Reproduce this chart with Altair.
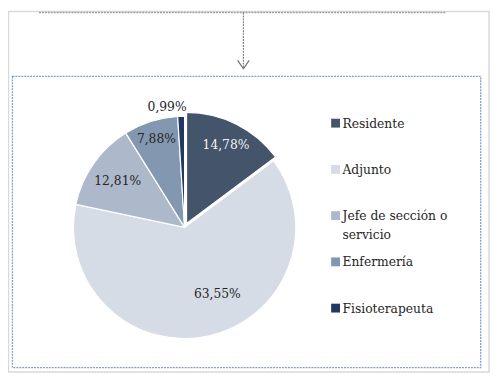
import json
import altair as alt
import pandas as pd

# ---- data ----
categories = ["Residente", "Adjunto", "Jefe de sección o servicio", "Enfermería", "Fisioterapeuta"]
values = [14.78, 63.55, 12.81, 7.88, 0.99]
legend_labels = ["Residente", "Adjunto", "Jefe de sección o\nservicio", "Enfermería", "Fisioterapeuta"]
colors = ["#44546A", "#D6DCE5", "#ADB9CA", "#8497B0", "#203864"]

df = pd.DataFrame({
    "cat": categories,
    "value": values,
    "idx": list(range(len(categories))),
    "label": [f"{v:.2f}".replace(".", ",") + "%" for v in values],
    "legend": legend_labels,
})

FONT = "DejaVu Serif"
CX, CY, R = 179.5, 220, 113
color_scale = alt.Scale(domain=categories, range=colors)

base = alt.Chart(df)

theta = alt.Theta("value:Q", stack=True)
order = alt.Order("idx:Q", sort="ascending")

# pie, Residente hidden (drawn exploded in next layer)
pie = base.mark_arc(radius=R, stroke="white", strokeWidth=1.2).encode(
    theta=theta, order=order,
    color=alt.Color("cat:N", scale=color_scale, legend=None),
    opacity=alt.condition(alt.datum.cat == "Residente", alt.value(0), alt.value(1)),
    x=alt.value(CX), y=alt.value(CY),
)
pie_explode = base.mark_arc(radius=R, stroke="white", strokeWidth=1.2).encode(
    theta=theta, order=order,
    color=alt.Color("cat:N", scale=color_scale, legend=None),
    opacity=alt.condition(alt.datum.cat == "Residente", alt.value(1), alt.value(0)),
    x=alt.value(CX + 2), y=alt.value(CY - 4),
)


def label_layer(only, radius, dx=0, dy=0, color="#262626"):
    expr = f"indexof({json.dumps(only)}, datum.cat) >= 0 ? datum.label : ''"
    return base.transform_calculate(lbl=expr).mark_text(
        radius=radius, dx=dx, dy=dy, font=FONT, fontSize=12.5, color=color,
        align="center", baseline="middle",
    ).encode(theta=theta, order=order, text="lbl:N", x=alt.value(CX), y=alt.value(CY))


labels = [
    label_layer(["Residente"], 94, color="#F2F2F2"),
    label_layer(["Enfermería"], 94),
    label_layer(["Jefe de sección o servicio"], 83),
    label_layer(["Adjunto"], 76, dx=17, dy=-6),
    label_layer(["Fisioterapeuta"], 122, dx=-14),
]

# ---- legend ----
ypos = alt.Y("cat:N", sort=categories, axis=None,
             scale=alt.Scale(type="point", range=[114, 302], padding=0))
leg_sq = base.mark_square(size=81, opacity=1).encode(
    x=alt.value(333), y=ypos,
    color=alt.Color("cat:N", scale=color_scale, legend=None),
)
leg_txt = base.mark_text(
    align="left", baseline="alphabetic", dy=4.6, lineBreak="\n", lineHeight=19.5,
    font=FONT, fontSize=12.5, color="#262626",
).encode(x=alt.value(340), y=ypos, text="legend:N")

# ---- decorations ----
one = alt.Data(values=[{"k": 1}])
frame = alt.Chart(one).mark_rect(fill=None, stroke="#D9D9D9", strokeWidth=1.5).encode(
    x=alt.value(0.5), x2=alt.value(489), y=alt.value(0.5), y2=alt.value(367))
top_line = alt.Chart(one).mark_rule(color="#A0A0A0", strokeWidth=1.5, strokeDash=[2, 1]).encode(
    x=alt.value(31.5), x2=alt.value(444.5), y=alt.value(1.5))
arrow_line = alt.Chart(one).mark_rule(color="#808080", strokeWidth=1.2, strokeDash=[2, 1]).encode(
    x=alt.value(239.3), y=alt.value(1.5), y2=alt.value(58))
arrow_head = alt.Chart(one).mark_point(
    shape="M -0.69 -1 L 0 0 L 0.69 -1", filled=False, size=289,
    stroke="#707070", strokeWidth=1.2, opacity=1,
).encode(x=alt.value(239.3), y=alt.value(58.7))
box = alt.Chart(one).mark_rect(fill=None, stroke="#7F9FD3", strokeWidth=1.3, strokeDash=[2, 1]).encode(
    x=alt.value(4.5), x2=alt.value(480.5), y=alt.value(66.5), y2=alt.value(362.5))

chart = alt.layer(
    frame, top_line, arrow_line, arrow_head, box,
    pie, pie_explode, *labels, leg_sq, leg_txt,
).properties(
    width=492, height=370, padding=0, autosize=alt.AutoSizeParams(type="none"),
    background="white",
).configure_view(stroke=None)

chart.save("out.html", embed_options={"renderer": "svg", "actions": False})
